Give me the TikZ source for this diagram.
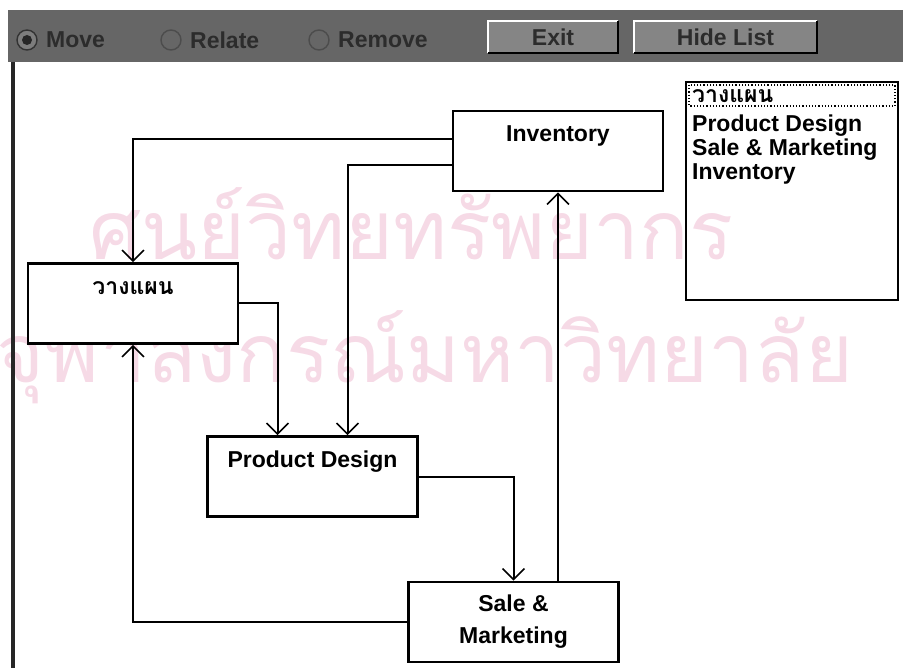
\documentclass[tikz,border=0pt]{standalone}
\usepackage{fontspec}
\setmainfont{Liberation Sans}
\newfontfamily\thaifont[Script=Thai]{Loma}
\usepackage{tikz}
\usetikzlibrary{arrows.meta, calc}
\definecolor{barcolor}{HTML}{666666}
\definecolor{btnface}{HTML}{858585}
\definecolor{wmpink}{HTML}{F6DAE6}
\definecolor{uitext}{HTML}{2C2C2C}
\newcommand\uifont{\fontsize{23}{24}\selectfont\bfseries}

\tikzset{
  unit/.style={draw, fill=white, line width=2.6pt, minimum width=210pt,
    inner xsep=0pt, inner ysep=0pt, text height=31pt, text depth=49pt,
    align=center, font=\uifont},
  flow/.style={line width=2pt, -{Straight Barb[length=11pt, width=22pt, line width=1.6pt]}},
  tool/.style={text=uitext, font=\uifont, inner sep=0pt},
  btn/.style={fill=btnface, minimum height=32pt, inner sep=0pt, text=uitext, font=\uifont},
  item/.style={anchor=base west, inner sep=0pt, font=\uifont},
  wmark/.style={wmpink, anchor=base west, inner sep=0pt, font=\thaifont\fontsize{82}{82}\selectfont}
}

\begin{document}
\begin{tikzpicture}[x=1pt, y=-1pt]
  \useasboundingbox (0,0) rectangle (903,668);

  % watermark of the scanned page
  \node[wmark] (wm1) at (89,260) {ศูนย์วิทยทรัพยากร};
  \node[wmark] (wm2) at (-4,383) {จุฬาลงกรณ์มหาวิทยาลัย};

  % tool bar
  \fill[barcolor] (8,10) rectangle (903,62);
  \draw[black!80, line width=1.4pt, fill=barcolor!85] (27,40) circle (10pt);
  \fill[black!85] (27,40) circle (5pt);
  \node[tool, anchor=west] (move) at (46,40) {Move};
  \draw[black!70, line width=1.4pt] (171,40) circle (10pt);
  \node[tool, anchor=west] (relate) at (190,40) {Relate};
  \draw[black!70, line width=1.4pt] (319,40) circle (10pt);
  \node[tool, anchor=west] (remove) at (338,40) {Remove};
  \node[btn, minimum width=130pt] (exit) at (553,37) {Exit};
  \node[btn, minimum width=183pt] (hide) at (725.5,37) {Hide List};
  \draw[white, line width=1.5pt] (exit.south west) |- (exit.north east);
  \draw[black, line width=1.5pt] (exit.south west) -| (exit.north east);
  \draw[white, line width=1.5pt] (hide.south west) |- (hide.north east);
  \draw[black, line width=1.5pt] (hide.south west) -| (hide.north east);

  % window edge
  \draw[black!85, line width=4pt] (13,62) -- (13,668);

  % units
  \node[unit] (inv)  at (558,151)   {Inventory};
  \node[unit, font=\uifont\thaifont] (plan) at (133,303.5) {วางแผน};
  \node[unit] (pd)   at (312.5,476.5) {Product Design};
  \node[unit, text height=61pt, text depth=19pt] (sm) at (513.5,622) {Sale \&\\[8pt]Marketing};

  % links
  \draw[flow] ([yshift=-29pt]inv.north west) -| (plan.north);
  \draw[flow] ([yshift=-55pt]inv.north west) -| ([xshift=35pt]pd.north);
  \draw[flow] (plan.east) -| ([xshift=-35pt]pd.north);
  \draw[flow] (pd.east) -| (sm.north);
  \draw[flow] (sm.north -| inv.south) -- (inv.south);
  \draw[flow] (sm.west) -| (plan.south);

  % list of units
  \node[draw, line width=2.2pt, minimum width=212pt, minimum height=218pt] (lst) at (792,191) {};
  \draw[dotted, line width=1.2pt] (689,85) rectangle (895,106);
  \node[item, font=\uifont\thaifont] (it1) at (692,103) {วางแผน};
  \node[item] (it2) at (692,132) {Product Design};
  \node[item] (it3) at (692,156) {Sale \& Marketing};
  \node[item] (it4) at (692,180) {Inventory};
\end{tikzpicture}
\end{document}
